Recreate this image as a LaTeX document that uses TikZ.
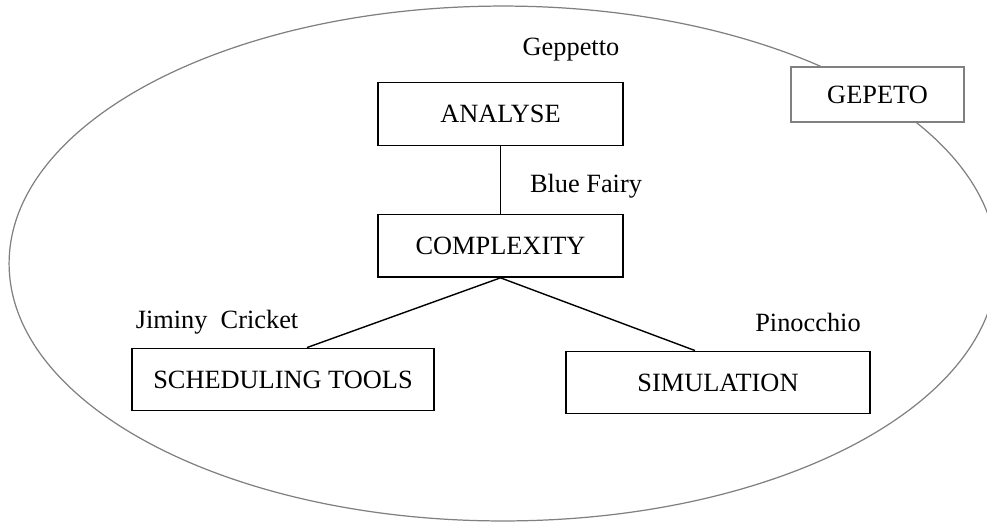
\documentclass[tikz,border=0pt]{standalone}
\usepackage{fontspec}
\setmainfont{Liberation Serif}
\usetikzlibrary{positioning, shapes.geometric}

\begin{document}
\begin{tikzpicture}[
    x=0.02cm, y=-0.02cm,
    node distance=1.36cm,
    box/.style={draw, line width=0.8pt, minimum width=4.9cm, minimum height=1.25cm, inner sep=0pt, font=\fontsize{15}{18}\selectfont},
    tag/.style={inner sep=0pt, font=\fontsize{15}{18}\selectfont},
    link/.style={line width=0.8pt}
]
\useasboundingbox (0,0) rectangle (987,522);

% Outer ellipse
\node (world) [draw=gray, line width=0.7pt, ellipse, minimum width=19.76cm, minimum height=10.3cm, inner sep=0pt] at (503,263.5) {};

% Nodes
\node (analyse) [box] at (500.5,114) {ANALYSE};
\node (complexity) [box, below=of analyse] {COMPLEXITY};
\node (sched) [box, minimum width=6.04cm] at (283,379.5) {SCHEDULING TOOLS};
\node (simul) [box, minimum width=6.08cm] at (718,382.5) {SIMULATION};
\node (gepeto) [box, draw=gray, fill=white, minimum width=3.46cm, minimum height=1.1cm] at (877.5,94.5) {GEPETO};

% Labels
\node (geppetto) [tag] at (571,50) {Geppetto};
\node (bluefairy) [tag] at (586,186) {Blue Fairy};
\node (jiminy) [tag] at (217,322) {Jiminy\ \ Cricket};
\node (pinocchio) [tag] at (808,322) {Pinocchio};

% Connectors
\draw[link] (analyse) -- (complexity);
\draw[link] (complexity.south) -- ([xshift=0.48cm]sched.north);
\draw[link] (complexity.south) -- ([xshift=-0.46cm]simul.north);

\end{tikzpicture}
\end{document}
